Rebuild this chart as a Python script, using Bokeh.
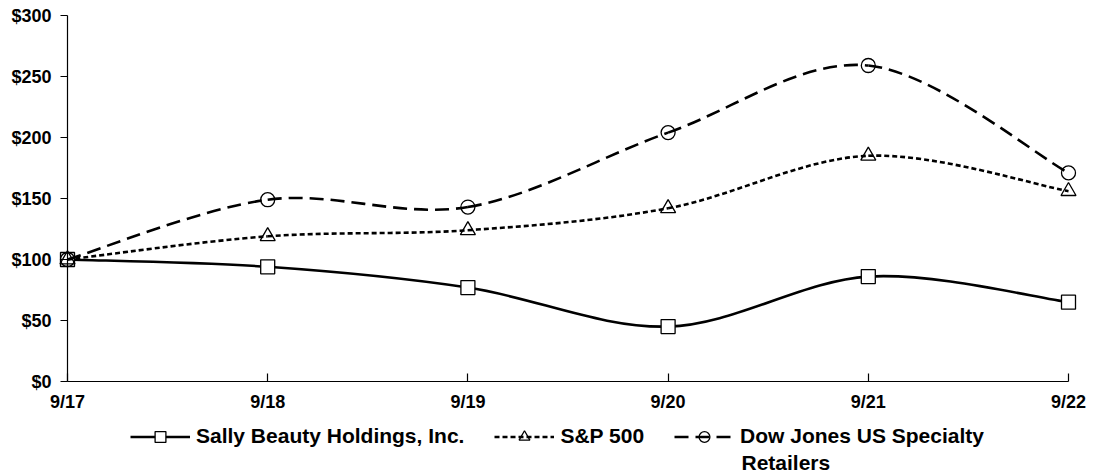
import math
from bokeh.plotting import figure
from bokeh.models import FixedTicker, Legend, LegendItem, Range1d, ColumnDataSource, Label
from bokeh.embed import file_html
from bokeh.resources import INLINE

periods = ["9/17", "9/18", "9/19", "9/20", "9/21", "9/22"]
sally = [100, 94, 77, 45, 86, 65]
sp500 = [100, 119, 124, 142, 185, 156]
dowjones = [100, 149, 143, 204, 259, 171]
y_ticks = [0, 50, 100, 150, 200, 250, 300]
y_tick_labels = ["$0", "$50", "$100", "$150", "$200", "$250", "$300"]
series_labels = ["Sally Beauty Holdings, Inc.", "S&P 500", "Dow Jones US Specialty"]
label_continuation = "Retailers"

FONT = "Liberation Sans"
W, H = 1093, 474
# plot-area placement (pixels)
LEFT, RIGHT, TOP, BOTTOM = 67, 1068, 15, 381
n = len(periods)
ux = (RIGHT - LEFT) / (n - 1)
uy = (BOTTOM - TOP) / 300
x_range = Range1d(-LEFT / ux, (n - 1) + (W - RIGHT) / ux)
y_range = Range1d(-(H - BOTTOM) / uy, 300 + TOP / uy)

p = figure(width=W, height=H, output_backend="svg", toolbar_location=None,
           x_range=x_range, y_range=y_range, min_border=0)
p.outline_line_color = None
p.xgrid.visible = False
p.ygrid.visible = False
p.background_fill_color = "white"
p.border_fill_color = "white"

xs = list(range(n))


def smooth_source(ys):
    m = len(ys)
    d = dict(x0=[], y0=[], x1=[], y1=[], cx0=[], cy0=[], cx1=[], cy1=[])
    for i in range(m - 1):
        xp, yp = (xs[i - 1], ys[i - 1]) if i > 0 else (xs[i], ys[i])
        xn, yn = (xs[i + 2], ys[i + 2]) if i + 2 < m else (xs[i + 1], ys[i + 1])
        d["x0"].append(xs[i]); d["y0"].append(ys[i])
        d["x1"].append(xs[i + 1]); d["y1"].append(ys[i + 1])
        d["cx0"].append(xs[i] + (xs[i + 1] - xp) / 6)
        d["cy0"].append(ys[i] + (ys[i + 1] - yp) / 6)
        d["cx1"].append(xs[i + 1] - (xn - xs[i]) / 6)
        d["cy1"].append(ys[i + 1] - (yn - ys[i]) / 6)
    return ColumnDataSource(d)


styles = [
    (sally, "solid", "square", 14, 1.0),
    (sp500, "5 3", "triangle", 15, 0.0),
    (dowjones, "14 7", "circle", 14, 0.0),
]

items = []
for label, (ys, dash, marker, size, falpha) in zip(series_labels, styles):
    src = smooth_source(ys)
    p.bezier(x0="x0", y0="y0", x1="x1", y1="y1", cx0="cx0", cy0="cy0", cx1="cx1", cy1="cy1",
             source=src, line_color="black", line_width=2.6, line_dash=dash)
    proxy = p.line(xs, [math.nan] * n, line_color="black", line_width=2.6, line_dash=dash)
    mk = p.scatter(xs, ys, marker=marker, size=size, fill_color="white", fill_alpha=falpha,
                   line_color="black", line_width=1.3)
    items.append(LegendItem(label=label, renderers=[proxy, mk]))

LEG_Y = 436  # vertical centre of legend row (pixels from top)
GLYPH_H = 27
legend = Legend(items=items, orientation="horizontal",
                location=(130, H - LEG_Y - GLYPH_H / 2),
                label_text_font=FONT, label_text_font_style="bold", label_text_font_size="21px",
                label_text_color="black", label_text_baseline="middle",
                glyph_width=60, glyph_height=GLYPH_H, label_standoff=6, label_height=GLYPH_H,
                spacing=30, padding=0, margin=0, border_line_color=None, background_fill_alpha=0)
p.add_layout(legend, "center")

p.add_layout(Label(x=741, y=H - 462, x_units="screen", y_units="screen", text=label_continuation,
                   text_font=FONT, text_font_style="bold", text_font_size="21px",
                   text_color="black", text_baseline="middle", text_align="left"))

p.xaxis.ticker = FixedTicker(ticks=xs)
p.xaxis.major_label_overrides = {i: s for i, s in enumerate(periods)}
p.xaxis.bounds = (0, n - 1)
p.xaxis.fixed_location = 0
p.yaxis.ticker = FixedTicker(ticks=y_ticks)
p.yaxis.major_label_overrides = {v: s for v, s in zip(y_ticks, y_tick_labels)}
p.yaxis.bounds = (0, 300)
p.yaxis.fixed_location = 0
for ax in (p.xaxis, p.yaxis):
    ax.axis_line_color = "black"
    ax.axis_line_width = 1.2
    ax.major_tick_line_color = "black"
    ax.major_tick_line_width = 1.2
    ax.minor_tick_line_color = None
    ax.major_label_text_font = FONT
    ax.major_label_text_font_style = "bold"
    ax.major_label_text_font_size = "18px"
    ax.major_label_text_color = "black"
p.xaxis.major_tick_in = 8
p.xaxis.major_tick_out = 0
p.xaxis.major_label_standoff = 10
p.yaxis.major_tick_in = 0
p.yaxis.major_tick_out = 7
p.yaxis.major_label_standoff = 9

open("out.html", "w").write(file_html(p, INLINE))
